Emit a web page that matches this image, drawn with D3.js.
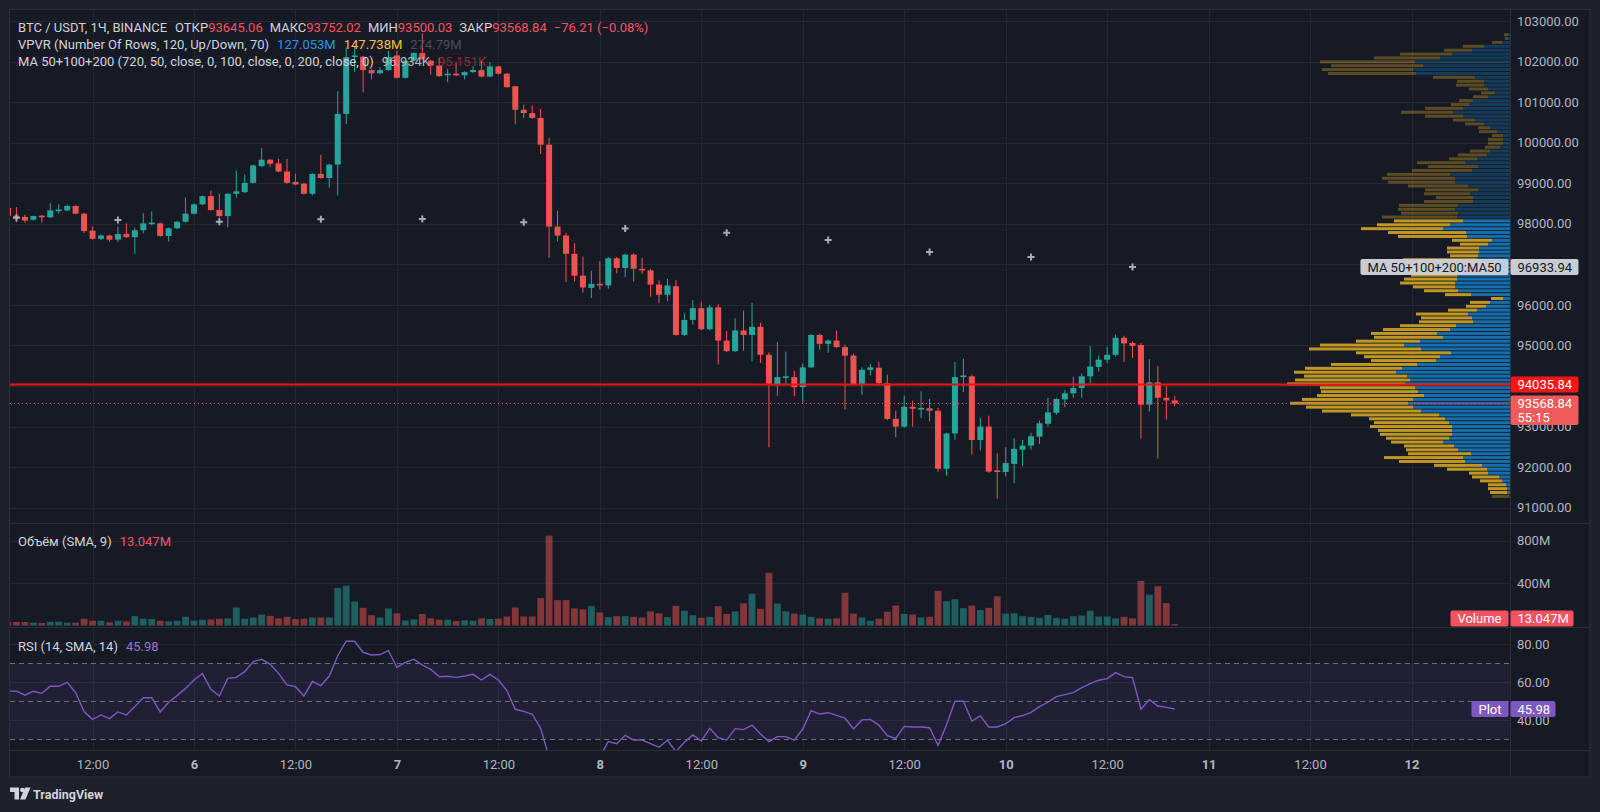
<!DOCTYPE html>
<html>
<head>
<meta charset="utf-8">
<script src="https://cdn.jsdelivr.net/npm/d3@7"></script>
<style>
  body { margin: 0; background: #1e212b; }
  svg { display: block; }
  text { font-family: Roboto, "Noto Sans", sans-serif; }
</style>
</head>
<body>
<svg id="chart" width="1600" height="812"></svg>
<script>
// ---- data ----
const startTime = Date.UTC(2025, 0, 5, 2); // first hourly candle
// [open, high, low, close]
const candles = [
  [98390, 98420, 98180, 98200], [98200, 98410, 98040, 98160], [98170, 98220, 98030, 98080],
  [98100, 98200, 98080, 98190], [98200, 98220, 98030, 98160], [98160, 98510, 98140, 98330],
  [98310, 98480, 98250, 98350], [98330, 98470, 98310, 98440], [98440, 98460, 98240, 98250],
  [98250, 98270, 97770, 97820], [97830, 97930, 97610, 97630], [97630, 97740, 97600, 97710],
  [97710, 97730, 97560, 97610], [97610, 97930, 97545, 97750], [97750, 98010, 97650, 97670],
  [97670, 97900, 97260, 97840], [97840, 98260, 97760, 98010], [97990, 98310, 97960, 98030],
  [98010, 98030, 97680, 97700], [97700, 97910, 97560, 97890], [97890, 98070, 97870, 98050],
  [98050, 98650, 98030, 98250], [98250, 98500, 98230, 98480], [98480, 98700, 98460, 98680],
  [98680, 98820, 98320, 98340], [98340, 98740, 98160, 98190], [98190, 98760, 97910, 98740],
  [98740, 99310, 98640, 98800], [98780, 99210, 98760, 99010], [99010, 99460, 98990, 99440],
  [99420, 99870, 99400, 99580], [99580, 99600, 99400, 99480], [99490, 99600, 99270, 99290],
  [99290, 99600, 98990, 99010], [99030, 99240, 98950, 98970], [98990, 99010, 98720, 98740],
  [98740, 99250, 98700, 99230], [99230, 99700, 99110, 99130], [99130, 99480, 98890, 99460],
  [99460, 101270, 98700, 100710], [100710, 102350, 100460, 102110], [102110, 102390, 101740, 102150],
  [102120, 102140, 101240, 101790], [101790, 101810, 101560, 101710], [101710, 101860, 101690, 101790],
  [101790, 102260, 101770, 102110], [102150, 102270, 101580, 101600], [101600, 102040, 101580, 102020],
  [102020, 102230, 102000, 102210], [102210, 102700, 102040, 102060], [102020, 102040, 101680, 101900],
  [101900, 102100, 101620, 101640], [101660, 101820, 101490, 101700], [101700, 101980, 101640, 101660],
  [101660, 101760, 101560, 101740], [101740, 101880, 101720, 101790], [101790, 102020, 101610, 101630],
  [101630, 101980, 101610, 101880], [101880, 101900, 101680, 101700], [101700, 101720, 101350, 101370],
  [101390, 101400, 100450, 100810], [100810, 100940, 100610, 100730], [100730, 100915, 100590, 100610],
  [100610, 100830, 99720, 99950], [99950, 100120, 97160, 97930], [97930, 98320, 97570, 97710],
  [97710, 97780, 96560, 97260], [97260, 97520, 96580, 96720], [96720, 97190, 96300, 96430],
  [96420, 96840, 96170, 96520], [96520, 97080, 96380, 96480], [96480, 97180, 96400, 97150],
  [97150, 97180, 96780, 96910], [96910, 97270, 96680, 97240], [97240, 97270, 96580, 96890],
  [96890, 97160, 96765, 96850], [96850, 96890, 96205, 96500], [96500, 96600, 96040, 96250],
  [96250, 96640, 96090, 96480], [96460, 96615, 95240, 95260], [95260, 95790, 95230, 95630],
  [95630, 96120, 95515, 95920], [95920, 96080, 95380, 95400], [95400, 96000, 95370, 95940],
  [95940, 96020, 94530, 95120], [95120, 95360, 94840, 94860], [94860, 95670, 94840, 95370],
  [95370, 95860, 94870, 95260], [95260, 96050, 94610, 95460], [95460, 95560, 94570, 94770],
  [94770, 94830, 92490, 94030], [94030, 95080, 93750, 94220], [94200, 94850, 94050, 94240],
  [94220, 94380, 93750, 93970], [93970, 94560, 93590, 94460], [94460, 95280, 94440, 95260],
  [95260, 95290, 94900, 95040], [95040, 95150, 94820, 95120], [95120, 95370, 94940, 94960],
  [94960, 95020, 93420, 94750], [94750, 94800, 94020, 94040], [94040, 94460, 93780, 94400],
  [94400, 94545, 94260, 94460], [94450, 94600, 94010, 94070], [94070, 94280, 93160, 93190],
  [93190, 93390, 92740, 93000], [93000, 93765, 92970, 93490], [93490, 93640, 93000, 93440],
  [93420, 93870, 93210, 93460], [93450, 93680, 93130, 93390], [93390, 93460, 91890, 91960],
  [91960, 92850, 91790, 92830], [92830, 94590, 92670, 94220], [94220, 94670, 93850, 94260],
  [94240, 94280, 92310, 92670], [92670, 93215, 92410, 93000], [93000, 93270, 91860, 91890],
  [91920, 92340, 91220, 91880], [91880, 92490, 91770, 92100], [92080, 92710, 91600, 92450],
  [92430, 92670, 92020, 92530], [92530, 92840, 92430, 92760], [92750, 93150, 92570, 93080],
  [93070, 93710, 93005, 93350], [93340, 93710, 93290, 93680], [93670, 93900, 93480, 93820],
  [93820, 94230, 93710, 93950], [93950, 94310, 93710, 94240], [94240, 94980, 94070, 94480],
  [94470, 94750, 94360, 94650], [94650, 94970, 94560, 94770], [94770, 95270, 94730, 95190],
  [95190, 95240, 94590, 95050], [95060, 95100, 94690, 94990], [95010, 95060, 92700, 93540],
  [93540, 94660, 93370, 94090], [94090, 94500, 92210, 93710], [93710, 94000, 93170, 93645.05],
  [93645.06, 93752.02, 93500.03, 93568.84]
];
// volume per candle, millions
const volumes = [
  30, 33, 33, 27, 24, 36, 36, 27, 27, 64, 45, 45, 30, 45, 39, 88, 64, 61, 45, 39,
  45, 82, 45, 55, 58, 64, 67, 170, 64, 76, 103, 91, 67, 82, 61, 64, 76, 76, 76, 355,
  376, 227, 167, 97, 76, 161, 115, 48, 58, 109, 67, 55, 55, 42, 48, 45, 67, 61, 64, 85,
  170, 85, 85, 258, 848, 239, 239, 161, 152, 182, 124, 79, 88, 88, 82, 76, 133, 115, 79, 185,
  139, 97, 73, 82, 182, 109, 133, 209, 300, 158, 497, 206, 133, 112, 103, 82, 67, 64, 67, 309,
  112, 76, 45, 64, 130, 188, 109, 103, 76, 82, 327, 230, 248, 164, 188, 145, 167, 276, 112, 115,
  88, 82, 73, 100, 70, 64, 88, 94, 139, 85, 85, 67, 82, 67, 421, 291, 370, 212, 13.047
];
const rsiValues = [
  55.4, 55.3, 53.2, 55.3, 54.2, 57.9, 57.9, 60.0, 54.6, 44.6, 40.5, 42.8, 40.9, 44.4, 42.8, 47.2,
  51.9, 51.9, 44.4, 49.5, 53.0, 56.8, 61.2, 64.6, 56.3, 52.8, 62.1, 62.6, 65.6, 70.9, 72.1, 69.6,
  64.7, 58.6, 57.7, 52.8, 60.4, 58.2, 63.3, 74.0, 81.6, 81.6, 75.8, 74.4, 74.6, 76.7, 67.9, 70.5,
  72.1, 69.1, 66.8, 63.0, 63.2, 62.6, 63.3, 64.2, 61.2, 64.2, 61.2, 55.6, 45.8, 44.7, 43.2, 35.8,
  20.5, 19.5, 16.5, 14.5, 13.5, 17.5, 21.0, 28.8, 27.7, 32.1, 29.6, 29.6, 27.7, 25.8, 29.5, 23.5,
  28.4, 32.3, 29.1, 35.8, 30.9, 29.6, 35.6, 35.1, 37.5, 32.8, 28.8, 31.4, 31.4, 29.6, 35.4, 45.1,
  43.3, 44.0, 42.6, 41.1, 35.4, 40.2, 40.5, 37.5, 31.9, 30.5, 36.8, 36.5, 36.5, 36.1, 26.8, 37.5,
  50.0, 50.0, 39.6, 42.3, 36.5, 36.5, 38.2, 41.4, 42.5, 44.2, 47.2, 49.5, 52.5, 53.5, 54.6, 57.2,
  59.3, 61.1, 61.9, 65.1, 63.0, 62.5, 45.8, 50.9, 47.5, 46.8, 45.98
];
// 12h MA50 plotted as crosses (candle index, value)
const maCrossIndex = [1, 13, 25, 37, 49, 61, 73, 85, 97, 109, 121, 133];
const maCrossValues = [98150, 98094, 98052, 98111, 98118, 98037, 97884, 97780, 97600, 97305, 97182, 96933.94];
const maLegendValues = [96933.94, 95151];
// visible range volume profile, 120 rows from top
const vpUp = [
  2, 2, 8, 26, 38, 58, 70, 95, 87, 97, 94, 35, 26, 26, 22, 15, 22, 37, 41, 47,
  57, 47, 35, 26, 20, 13, 7, 7, 7, 10, 20, 23, 33, 45, 32, 38, 60, 55, 55, 42,
  32, 40, 37, 37, 52, 55, 52, 53, 47, 60, 67, 44, 43, 18, 22, 31, 31, 32, 33, 45,
  50, 52, 53, 53, 55, 55, 52, 39, 7, 20, 24, 33, 42, 38, 37, 54, 60, 73, 67, 90,
  106, 89, 59, 70, 74, 93, 108, 114, 103, 100, 105, 95, 92, 86, 97, 102, 97, 89, 71, 65,
  61, 58, 58, 58, 61, 67, 56, 52, 39, 47, 45, 28, 23, 22, 11, 8, 4, 3, 3, 1
];
const vpDown = [
  4, 3, 10, 21, 28, 52, 66, 95, 92, 91, 88, 42, 27, 28, 19, 14, 15, 14, 18, 38,
  52, 38, 22, 19, 12, 18, 11, 15, 15, 15, 20, 29, 28, 48, 50, 60, 63, 73, 67, 60,
  53, 46, 37, 49, 59, 57, 57, 75, 69, 73, 82, 78, 69, 40, 28, 32, 32, 28, 74, 60,
  55, 52, 46, 53, 55, 42, 34, 26, 12, 20, 20, 29, 52, 51, 54, 56, 67, 66, 69, 64,
  84, 112, 95, 76, 65, 86, 97, 102, 103, 115, 118, 95, 97, 107, 111, 118, 107, 99, 88, 76,
  75, 82, 74, 72, 63, 52, 50, 52, 63, 79, 66, 48, 40, 19, 27, 22, 18, 19, 17, 17
];
const valueAreaRows = [48, 118];
const vpvrLegendValues = [127.053, 147.738, 274.79];
const priceTicks = [103000, 102000, 101000, 100000, 99000, 98000, 97000, 96000, 95000, 94000, 93000, 92000, 91000];
const volumeTicks = [400, 800];
const rsiTicks = [40, 60, 80];
const rsiLevels = [70, 50, 30];
const alertPrice = 94035.84;
const countdown = "55:15";

// ---- layout ----
const attrs = {
  left: 10, right: 1510, edge: 1590,
  top: 9.5, mainBottom: 523, volBottom: 627, rsiBottom: 750, axisBottom: 777,
  bg: "#161a25", grid: "#232733", border: "#2a2e39",
  axisText: "#b2b5be", legendText: "#d1d4dc",
  up: "#26a69a", down: "#ef5350", salmon: "#f7525f", purple: "#7e57c2"
};

const svg = d3.select("#chart");
const hourMs = 3600e3;
const candleDate = i => new Date(startTime + i * hourMs);
const fmt2 = d3.format(".2f");

const x = d3.scaleUtc()
  .domain([Date.UTC(2025, 0, 6), Date.UTC(2025, 0, 12)])
  .range([194, 1411.5]);
const yPrice = d3.scaleLinear().domain([91000, 103000]).range([507.7, 21]);
const yVol = d3.scaleLinear().domain([0, 800]).range([625.5, 540.7]);
const yRsi = d3.scaleLinear().domain([30, 70]).range([739.3, 663.3]);

// frame
svg.append("rect")
  .attr("x", 9.5).attr("y", attrs.top)
  .attr("width", attrs.edge - 9.5).attr("height", attrs.axisBottom - attrs.top)
  .attr("fill", attrs.bg).attr("stroke", attrs.border);

const defs = svg.append("defs");
function addClip(id, y0, y1) {
  defs.append("clipPath").attr("id", id).append("rect")
    .attr("x", attrs.left).attr("y", y0)
    .attr("width", attrs.right - attrs.left).attr("height", y1 - y0);
}
addClip("clip-main", attrs.top, attrs.mainBottom);
addClip("clip-vol", attrs.mainBottom, attrs.volBottom);
addClip("clip-rsi", attrs.volBottom, attrs.rsiBottom);

// ---- grid ----
const gridTimes = d3.utcHour.every(12).range(x.invert(attrs.left), x.invert(attrs.right));
const grid = svg.append("g").attr("stroke", attrs.grid).attr("shape-rendering", "crispEdges");
grid.selectAll(".vgrid").data(gridTimes).join("line")
  .attr("x1", d => Math.round(x(d)) + 0.5).attr("x2", d => Math.round(x(d)) + 0.5)
  .attr("y1", attrs.top).attr("y2", attrs.rsiBottom);
grid.selectAll(".pgrid").data(priceTicks).join("line")
  .attr("x1", attrs.left).attr("x2", attrs.right)
  .attr("y1", d => Math.round(yPrice(d)) + 0.5).attr("y2", d => Math.round(yPrice(d)) + 0.5);
grid.selectAll(".vgrid2").data(volumeTicks).join("line")
  .attr("x1", attrs.left).attr("x2", attrs.right)
  .attr("y1", d => Math.round(yVol(d)) + 0.5).attr("y2", d => Math.round(yVol(d)) + 0.5);
grid.selectAll(".rgrid").data(rsiTicks).join("line")
  .attr("x1", attrs.left).attr("x2", attrs.right)
  .attr("y1", d => Math.round(yRsi(d)) + 0.5).attr("y2", d => Math.round(yRsi(d)) + 0.5);

// ---- volume profile (VPVR) ----
const vpHigh = d3.max(candles, d => d[1]);
const vpLow = d3.min(candles, d => d[2]);
const rowStep = (vpHigh - vpLow) / vpUp.length;
const vpTotals = vpUp.map((u, i) => u + vpDown[i]);
const vpWidth = d3.scaleLinear().domain([0, d3.max(vpTotals)]).range([0, 223]);
const inVA = i => i >= valueAreaRows[0] && i <= valueAreaRows[1];

const vp = svg.append("g").attr("clip-path", "url(#clip-main)");
const rowY = i => yPrice(vpHigh - i * rowStep);
const rowH = yPrice(vpHigh - rowStep) - yPrice(vpHigh) - 0.9;
vp.selectAll(".vp-up").data(vpUp).join("rect")
  .attr("x", d => attrs.right - vpWidth(d)).attr("width", d => vpWidth(d))
  .attr("y", (d, i) => rowY(i)).attr("height", rowH)
  .attr("fill", (d, i) => inVA(i) ? "rgba(21,146,230,0.7)" : "rgba(21,146,230,0.28)");
vp.selectAll(".vp-dn").data(vpDown).join("rect")
  .attr("x", (d, i) => attrs.right - vpWidth(vpUp[i]) - vpWidth(d)).attr("width", d => vpWidth(d))
  .attr("y", (d, i) => rowY(i)).attr("height", rowH)
  .attr("fill", (d, i) => inVA(i) ? "rgba(251,193,35,0.75)" : "rgba(251,193,35,0.3)");

// ---- candles ----
const isUp = d => d[3] >= d[0];
const cg = svg.append("g").attr("clip-path", "url(#clip-main)");
const candle = cg.selectAll(".candle").data(candles).join("g")
  .attr("transform", (d, i) => `translate(${x(candleDate(i))},0)`);
candle.append("line")
  .attr("y1", d => yPrice(d[1])).attr("y2", d => yPrice(d[2]))
  .attr("stroke", d => isUp(d) ? attrs.up : attrs.down).attr("stroke-width", 1);
candle.append("rect")
  .attr("x", -3).attr("width", 6)
  .attr("y", d => yPrice(Math.max(d[0], d[3])))
  .attr("height", d => Math.max(1, Math.abs(yPrice(d[0]) - yPrice(d[3]))))
  .attr("fill", d => isUp(d) ? attrs.up : attrs.down);

// MA50 (12h) crosses
cg.selectAll(".ma").data(maCrossValues).join("path")
  .attr("transform", (d, i) => `translate(${x(candleDate(maCrossIndex[i]))},${yPrice(d)})`)
  .attr("d", "M-3.5,0H3.5M0,-3.5V3.5")
  .attr("stroke", "#a9acb5").attr("stroke-width", 2);

// price lines
const last = candles[candles.length - 1];
svg.append("line")
  .attr("x1", attrs.left).attr("x2", attrs.right)
  .attr("y1", yPrice(last[3])).attr("y2", yPrice(last[3]))
  .attr("stroke", attrs.down).attr("stroke-dasharray", "1,3").attr("stroke-width", 1);
svg.append("line")
  .attr("x1", attrs.left).attr("x2", attrs.right)
  .attr("y1", yPrice(alertPrice)).attr("y2", yPrice(alertPrice))
  .attr("stroke", "#ff1010").attr("stroke-width", 2);

// ---- volume ----
svg.append("g").attr("clip-path", "url(#clip-vol)")
  .selectAll("rect").data(volumes).join("rect")
  .attr("x", (d, i) => x(candleDate(i)) - 3.4).attr("width", 6.8)
  .attr("y", d => yVol(d)).attr("height", d => yVol(0) - yVol(d))
  .attr("fill", (d, i) => isUp(candles[i]) ? "rgba(38,166,154,0.5)" : "rgba(239,83,80,0.5)");

// ---- RSI ----
const rsiG = svg.append("g").attr("clip-path", "url(#clip-rsi)");
rsiG.append("rect")
  .attr("x", attrs.left).attr("width", attrs.right - attrs.left)
  .attr("y", yRsi(70)).attr("height", yRsi(30) - yRsi(70))
  .attr("fill", "rgba(126,87,194,0.1)");
rsiG.selectAll(".lvl").data(rsiLevels).join("line")
  .attr("x1", attrs.left).attr("x2", attrs.right)
  .attr("y1", d => Math.round(yRsi(d)) + 0.5).attr("y2", d => Math.round(yRsi(d)) + 0.5)
  .attr("stroke", "#6b6e79").attr("stroke-dasharray", "5,4");
rsiG.append("path")
  .datum(rsiValues)
  .attr("d", d3.line().x((d, i) => x(candleDate(i))).y(d => yRsi(d)))
  .attr("fill", "none").attr("stroke", attrs.purple).attr("stroke-width", 1.4);

// ---- separators ----
const sep = svg.append("g").attr("stroke", attrs.border).attr("shape-rendering", "crispEdges");
[attrs.mainBottom, attrs.volBottom, attrs.rsiBottom].forEach(y => {
  sep.append("line").attr("x1", 9.5).attr("x2", attrs.edge).attr("y1", y + 0.5).attr("y2", y + 0.5);
});
sep.append("line").attr("x1", attrs.right + 0.5).attr("x2", attrs.right + 0.5)
  .attr("y1", attrs.top).attr("y2", attrs.axisBottom);

// ---- legends ----
function legendLine(y, parts) {
  const t = svg.append("text").attr("x", 18).attr("y", y).attr("font-size", 13);
  parts.forEach(p => t.append("tspan").attr("dx", p[2] || 0).attr("fill", p[1]).text(p[0]));
}
const prevClose = candles[candles.length - 2][3];
const change = last[3] - prevClose;
const L = attrs.legendText, R = attrs.salmon;
legendLine(31.8, [
  ["BTC / USDT, 1Ч, BINANCE", L], ["ОТКР", L, 8], [fmt2(last[0]), R],
  ["МАКС", L, 7], [fmt2(last[1]), R], ["МИН", L, 7], [fmt2(last[2]), R],
  ["ЗАКР", L, 7], [fmt2(last[3]), R],
  [`${fmt2(change)} (${d3.format(".2%")(change / prevClose)})`, R, 7]
]);
const fmtM = d => d3.format(".3~f")(d) + "M";
legendLine(48.5, [
  ["VPVR (Number Of Rows, 120, Up/Down, 70)", L],
  [fmtM(vpvrLegendValues[0]), "#2196f3", 8],
  [fmtM(vpvrLegendValues[1]), "#f9c22e", 8],
  [fmtM(vpvrLegendValues[2]), "#4a4e59", 8]
]);
const fmtK = d => d3.format(".3f")(d / 1000) + "K";
legendLine(65.5, [
  ["MA 50+100+200 (720, 50, close, 0, 100, close, 0, 200, close, 0)", L],
  [fmtK(maLegendValues[0]), "#b2b5be", 8],
  [fmtK(maLegendValues[1]), "rgba(242,54,69,0.55)", 8]
]);
legendLine(546, [["Объём (SMA, 9)", L], [d3.format(".3f")(volumes[volumes.length - 1]) + "M", R, 8]]);
legendLine(650.5, [["RSI (14, SMA, 14)", L], [fmt2(rsiValues[rsiValues.length - 1]), "#9575cd", 8]]);

// ---- right axis labels ----
const axisG = svg.append("g").attr("font-size", 13).attr("fill", attrs.axisText);
axisG.selectAll(".pl").data(priceTicks).join("text")
  .attr("x", 1517).attr("y", d => yPrice(d) + 4.6).text(d => fmt2(d));
axisG.selectAll(".vl").data(volumeTicks).join("text")
  .attr("x", 1517).attr("y", d => yVol(d) + 4.6).text(d => d + "M");
axisG.selectAll(".rl").data(rsiTicks).join("text")
  .attr("x", 1517).attr("y", d => yRsi(d) + 4.6).text(d => fmt2(d));

// ---- time axis ----
const timeAxis = d3.axisBottom(x)
  .tickValues(gridTimes.filter(d => x(d) > attrs.left + 20))
  .tickSize(0).tickPadding(10)
  .tickFormat(d => d.getUTCHours() === 0 ? d.getUTCDate() : "12:00");
const ta = svg.append("g").attr("transform", `translate(0,${attrs.rsiBottom})`).call(timeAxis);
ta.select(".domain").remove();
ta.selectAll("text")
  .attr("fill", attrs.axisText).attr("font-size", 13)
  .attr("font-family", "Roboto, sans-serif")
  .attr("font-weight", d => d.getUTCHours() === 0 ? 700 : 400);

// ---- axis tags ----
function tag(y, h, text, fill, color, x0 = attrs.right + 0.5, w = 68) {
  svg.append("rect").attr("x", x0).attr("y", y - h / 2).attr("width", w).attr("height", h)
    .attr("rx", 2).attr("fill", fill);
  svg.append("text").attr("x", x0 + 7).attr("y", y + 4.6)
    .attr("font-size", 13).attr("fill", color).text(text);
}
function nameTag(y, text, fill, color) {
  const t = svg.append("text").attr("y", y + 4.6).attr("font-size", 13).attr("fill", color).text(text);
  const w = t.node().getComputedTextLength() + 14;
  svg.insert("rect", () => t.node()).attr("x", attrs.right - 1.5 - w).attr("y", y - 8)
    .attr("width", w).attr("height", 16).attr("rx", 2).attr("fill", fill);
  t.attr("x", attrs.right - 1.5 - w + 7);
}
const maLast = maCrossValues[maCrossValues.length - 1];
nameTag(yPrice(maLast), "MA 50+100+200:MA50", "#c9ccd3", "#131722");
tag(yPrice(maLast), 16, fmt2(maLast), "#c9ccd3", "#131722");
tag(yPrice(alertPrice), 16, fmt2(alertPrice), "#ff1414", "#ffffff");
// current price with countdown
const cy = yPrice(last[3]);
svg.append("rect").attr("x", attrs.right + 0.5).attr("y", cy - 8).attr("width", 68).attr("height", 29.5)
  .attr("rx", 2).attr("fill", "#f05a5a");
svg.append("text").attr("x", attrs.right + 7.5).attr("y", cy + 4.6).attr("font-size", 13)
  .attr("fill", "#fff").text(fmt2(last[3]));
svg.append("text").attr("x", attrs.right + 7.5).attr("y", cy + 18.3).attr("font-size", 13)
  .attr("fill", "#fff").text(countdown);
const vy = Math.min(yVol(volumes[volumes.length - 1]), attrs.volBottom - 8.6);
nameTag(vy, "Volume", attrs.salmon, "#fff");
tag(vy, 16, d3.format(".3f")(volumes[volumes.length - 1]) + "M", attrs.salmon, "#fff", attrs.right + 0.5, 63);
const ry = yRsi(rsiValues[rsiValues.length - 1]);
nameTag(ry, "Plot", attrs.purple, "#fff");
tag(ry, 16, fmt2(rsiValues[rsiValues.length - 1]), attrs.purple, "#fff", attrs.right + 0.5, 45);

// ---- footer logo ----
const logo = svg.append("g").attr("fill", "#d1d4dc");
logo.append("path").attr("d", "M10,787.5h9v12h-4.5v-7.5h-4.5z");
logo.append("circle").attr("cx", 22.3).attr("cy", 790).attr("r", 2.3);
logo.append("path").attr("d", "M25,787.5h5.5l-5,12h-5.5z");
svg.append("text").attr("x", 33).attr("y", 798.5).attr("font-size", 12.5)
  .attr("font-weight", 700).attr("fill", "#d1d4dc").text("TradingView");
</script>
</body>
</html>
